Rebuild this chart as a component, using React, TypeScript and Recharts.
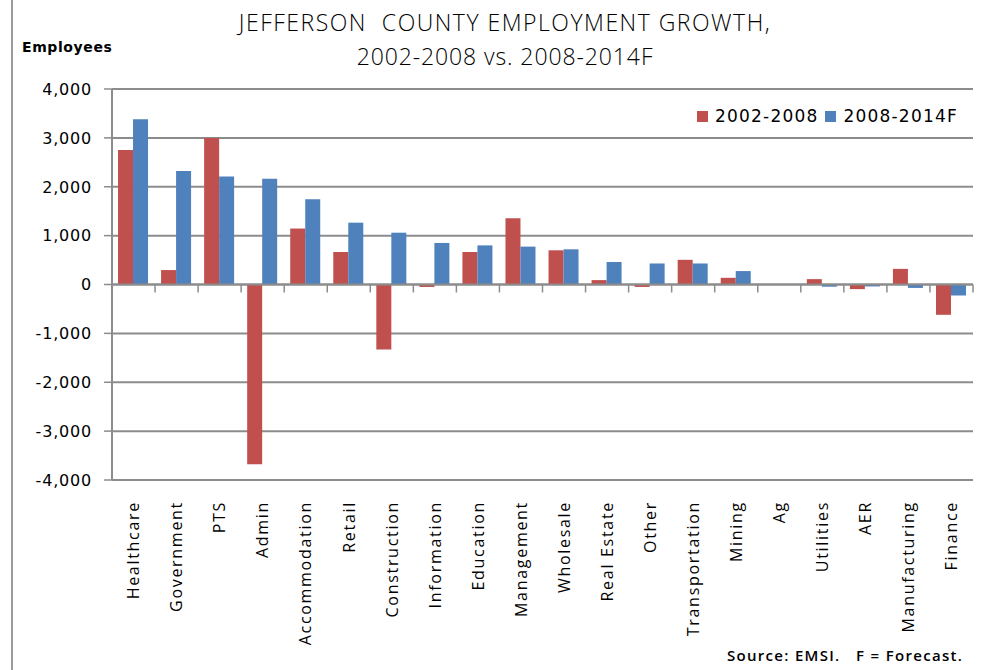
import React from 'react';
import { BarChart, Bar, XAxis, YAxis, CartesianGrid, ReferenceLine } from 'recharts';

const categories = ['Healthcare', 'Government', 'PTS', 'Admin', 'Accommodation', 'Retail', 'Construction', 'Information', 'Education', 'Management', 'Wholesale', 'Real Estate', 'Other', 'Transportation', 'Mining', 'Ag', 'Utilities', 'AER', 'Manufacturing', 'Finance'];
const growth0208 = [2750, 295, 3000, -3680, 1145, 665, -1330, -50, 665, 1356, 700, 90, -50, 505, 137, 0, 110, -95, 320, -620];
const growth0814 = [3380, 2320, 2210, 2165, 1745, 1265, 1060, 850, 800, 775, 720, 460, 430, 430, 275, 0, -45, -40, -70, -225];
const yTicks = [-4000, -3000, -2000, -1000, 0, 1000, 2000, 3000, 4000];
const seriesNames = ['2002-2008', '2008-2014F'];
const titleLines = ['JEFFERSON  COUNTY EMPLOYMENT GROWTH,', '2002-2008 vs. 2008-2014F'];

const RED = '#C0504D';
const BLUE = '#4F81BD';
const GRID = '#8C8C8C';

const data = categories.map((name, i) => ({ name, a: growth0208[i], b: growth0814[i] }));

const XTick = (props: any) => {
  const { x, y, payload } = props;
  const ax = x;
  const ay = y + 13;
  return (
    <text x={ax} y={ay} transform={`rotate(-90, ${ax}, ${ay})`} textAnchor="end" dy="0.36em"
      fontFamily="Open Sans" fontSize={16} letterSpacing={1.7} fill="#000">
      {payload.value}
    </text>
  );
};

const YTick = (props: any) => {
  const { x, y, payload } = props;
  return (
    <text x={x - 10} y={y} textAnchor="end" dy="0.36em" fontFamily="DejaVu Sans" fontSize={16} letterSpacing={0.8} fill="#000">
      {payload.value.toLocaleString('en-US')}
    </text>
  );
};

const ZeroAxis = (props: any) => {
  const { x1, x2, y1 } = props;
  const n = categories.length;
  const w = (x2 - x1) / n;
  const ticks = [];
  for (let i = 1; i <= n; i++) {
    const tx = x1 + w * i;
    ticks.push(<line key={i} x1={tx} x2={tx} y1={y1} y2={y1 + 8} stroke={GRID} strokeWidth={1.5} />);
  }
  return (
    <g>
      <line x1={x1} x2={x2} y1={y1} y2={y1} stroke={GRID} strokeWidth={2} />
      {ticks}
    </g>
  );
};

export default function App() {
  return (
    <div style={{ position: 'absolute', left: 0, top: 0, width: 982, height: 670, background: '#fff', overflow: 'hidden' }}>
      <div style={{ position: 'absolute', left: 11, top: 0, width: 2, height: 670, background: '#9a9a9a' }} />
      <div style={{ position: 'absolute', left: 0, width: 1010, top: 5, textAlign: 'center', fontFamily: 'Open Sans', fontWeight: 300, fontSize: 23, lineHeight: '34px', color: '#000', whiteSpace: 'pre' }}>
        <div style={{ letterSpacing: 1.5 }}>{titleLines[0]}</div>
        <div style={{ letterSpacing: 0.9 }}>{titleLines[1]}</div>
      </div>
      <div style={{ position: 'absolute', left: 22, top: 39, fontFamily: 'DejaVu Sans', fontWeight: 700, fontSize: 14, color: '#000', letterSpacing: 0.6 }}>Employees</div>
      <div style={{ position: 'absolute', left: 697, top: 106, display: 'flex', alignItems: 'center', fontFamily: 'DejaVu Sans', fontSize: 17, color: '#000', letterSpacing: 1.2, whiteSpace: 'pre' }}>
        <span style={{ width: 11, height: 11, background: RED, display: 'inline-block', marginRight: 7 }} />
        <span style={{ marginRight: 7 }}>{seriesNames[0]}</span>
        <span style={{ width: 11, height: 11, background: BLUE, display: 'inline-block', marginRight: 7 }} />
        <span>{seriesNames[1]}</span>
      </div>
      <div style={{ position: 'absolute', left: 727, top: 645, fontFamily: 'Open Sans', fontWeight: 600, fontSize: 15, color: '#000', whiteSpace: 'pre', letterSpacing: 1.3 }}>Source: EMSI.   F = Forecast.</div>
      <BarChart width={982} height={670} data={data} margin={{ top: 89, right: 9, bottom: 0, left: 0 }}
        barCategoryGap="14%" barGap={0} style={{ position: 'absolute', left: 0, top: 0 }}>
        <CartesianGrid vertical={false} stroke={GRID} strokeWidth={2} />
        <YAxis type="number" domain={[-4000, 4000]} ticks={yTicks} width={112} interval={0}
          axisLine={{ stroke: GRID, strokeWidth: 2 }} tickLine={{ stroke: GRID, strokeWidth: 1.5 }} tickSize={8} tick={<YTick />} />
        <XAxis dataKey="name" interval={0} height={190} axisLine={false} tickLine={false} tick={<XTick />} />
        <ReferenceLine y={0} shape={<ZeroAxis />} ifOverflow="extendDomain" />
        <Bar dataKey="a" name={seriesNames[0]} fill={RED} isAnimationActive={false} />
        <Bar dataKey="b" name={seriesNames[1]} fill={BLUE} isAnimationActive={false} />
      </BarChart>
    </div>
  );
}
